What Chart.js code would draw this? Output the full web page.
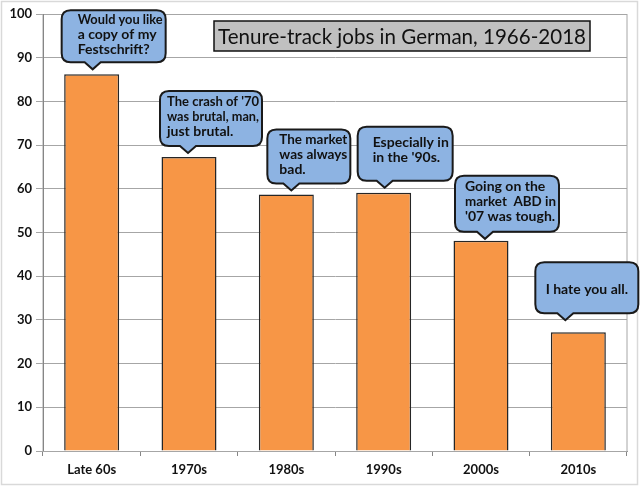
<!DOCTYPE html>
<html>
<head>
<meta charset="utf-8">
<script src="https://cdn.jsdelivr.net/npm/chart.js@4/dist/chart.umd.min.js"></script>
<style>
  html, body { margin: 0; padding: 0; background: #fff; }
</style>
</head>
<body>
<canvas id="myChart" width="640" height="486"></canvas>
<script>
// data
const categories = ['Late 60s', '1970s', '1980s', '1990s', '2000s', '2010s'];
const jobs = [86.2, 67.3, 58.7, 59.1, 48.1, 27.2];
const yMin = 0, yMax = 100, yStep = 10;
const chartTitle = 'Tenure-track jobs in German, 1966-2018';
const notes = [
  ['Would you like', 'a copy of my', 'Festschrift?'],
  ["The crash of '70", 'was brutal, man,', 'just brutal.'],
  ['The market', 'was always', 'bad.'],
  ['Especially in', "in the '90s."],
  ['Going on the', 'market  ABD in', "'07 was tough."],
  ['I hate you all.']
];

// callout shapes (relative to bar centre / bar top)
const calloutLook = [
  { left: -30, w: 104, h: 52, gap: 12, tip: 31, tx: 16, ty: 9 },
  { left: -29, w: 102, h: 55, gap: 11, tip: 28, tx: 7, ty: 11 },
  { left: -19, w: 83, h: 54, gap: 11, tip: 24, tx: 12, ty: 10 },
  { left: -26, w: 95, h: 54, gap: 12, tip: 27, tx: 15, ty: 16 },
  { left: -26, w: 104, h: 56, gap: 9, tip: 30, tx: 10, ty: 11 },
  { left: -43, w: 103, h: 51, gap: 19, tip: 30, tx: 'c', ty: 27 }
];

const FONT = 'Lato, Calibri, "Open Sans", sans-serif';

function calloutPath(c, x, y, w, h, tipX, r) {
  c.beginPath();
  c.moveTo(x + r, y);
  c.lineTo(x + w - r, y);
  c.quadraticCurveTo(x + w, y, x + w, y + r);
  c.lineTo(x + w, y + h - r);
  c.quadraticCurveTo(x + w, y + h, x + w - r, y + h);
  c.lineTo(tipX + 8, y + h);
  c.lineTo(tipX, y + h + 7);
  c.lineTo(tipX - 8, y + h);
  c.lineTo(x + r, y + h);
  c.quadraticCurveTo(x, y + h, x, y + h - r);
  c.lineTo(x, y + r);
  c.quadraticCurveTo(x, y, x + r, y);
  c.closePath();
}

const decor = {
  id: 'decor',
  beforeDraw(chart) {
    const c = chart.ctx;
    c.save();
    c.fillStyle = '#fff';
    c.fillRect(0, 0, chart.width, chart.height);
    c.strokeStyle = '#d9d9d9';
    c.lineWidth = 1.5;
    c.strokeRect(1.5, 1.5, chart.width - 4, chart.height - 3);
    c.restore();
  },
  beforeDatasetsDraw(chart) {
    const a = chart.chartArea;
    const c = chart.ctx;
    c.save();
    c.strokeStyle = '#a6a6a6';
    c.lineWidth = 1;
    c.strokeRect(a.left, a.top + 0.5, a.right - a.left, a.bottom - a.top);
    c.strokeStyle = '#868686';
    c.beginPath();
    c.moveTo(a.left + 0.5, a.top);
    c.lineTo(a.left + 0.5, a.bottom);
    c.stroke();
    // title box
    c.font = '21px ' + FONT;
    const cx = 402, cy = 37;
    c.fillStyle = '#c0c0c0';
    c.fillRect(214, 21, 376, 30);
    c.strokeStyle = '#111';
    c.lineWidth = 1.5;
    c.strokeRect(214, 21, 376, 30);
    c.fillStyle = '#111';
    c.textAlign = 'center';
    c.textBaseline = 'middle';
    c.fillText(chartTitle, cx, cy, 368);
    c.restore();
  },
  afterDatasetsDraw(chart) {
    const c = chart.ctx;
    const bars = chart.getDatasetMeta(0).data;
    c.save();
    bars.forEach((bar, i) => {
      const s = calloutLook[i];
      const x = bar.x + s.left;
      const bottom = bar.y - s.gap;
      const y = bottom - s.h;
      calloutPath(c, x, y, s.w, s.h, x + s.tip, 9);
      c.fillStyle = '#8db3e2';
      c.fill();
      c.strokeStyle = '#1a1a1a';
      c.lineWidth = 2;
      c.stroke();
      c.fillStyle = '#111';
      c.font = 'bold 14px ' + FONT;
      c.textBaseline = 'middle';
      notes[i].forEach((line, k) => {
        if (s.tx === 'c') {
          c.textAlign = 'center';
          c.fillText(line, x + s.w / 2, y + s.ty + k * 15);
        } else {
          c.textAlign = 'left';
          c.fillText(line, x + s.tx, y + s.ty + k * 15, s.w - s.tx - 3);
        }
      });
    });
    c.restore();
  }
};

const ctx = document.getElementById('myChart');
var chart = new Chart(ctx, {
  type: 'bar',
  data: {
    labels: categories,
    datasets: [{
      label: 'Jobs',
      data: jobs,
      backgroundColor: '#f79646',
      borderColor: '#262626',
      borderWidth: 1.5,
      barPercentage: 0.565,
      categoryPercentage: 1
    }]
  },
  options: {
    responsive: false,
    animation: false,
    devicePixelRatio: 1,
    layout: { padding: { top: 14, right: 13, left: 0, bottom: 0 } },
    plugins: {
      legend: { display: false },
      tooltip: { enabled: false }
    },
    scales: {
      x: {
        offset: true,
        grid: { offset: true, drawOnChartArea: false, color: '#868686', tickLength: 5 },
        border: { color: '#868686' },
        ticks: { color: '#111', padding: 6, maxRotation: 0, autoSkip: false, font: { family: FONT, size: 13, weight: 'bold' } },
        afterFit: s => { s.height = 35; }
      },
      y: {
        min: yMin, max: yMax,
        grid: { color: '#a6a6a6', tickLength: 7 },
        border: { color: '#868686' },
        ticks: { stepSize: yStep, color: '#111', padding: 4, font: { family: FONT, size: 13, weight: 'bold' } },
        afterFit: s => { s.width = 43; }
      }
    }
  },
  plugins: [decor]
});
</script>
</body>
</html>
